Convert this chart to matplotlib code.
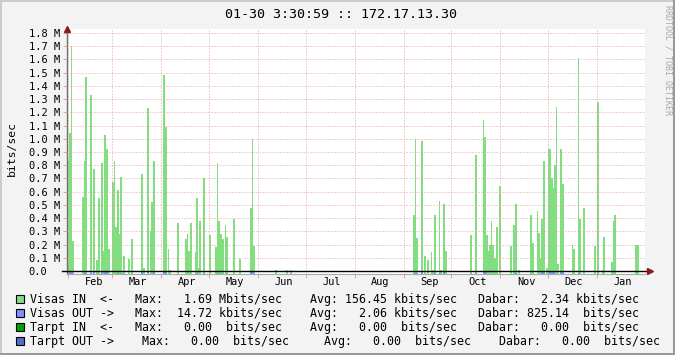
import matplotlib.pyplot as plt
import matplotlib.transforms as mtransforms
from matplotlib.patches import Rectangle
from matplotlib.lines import Line2D

plt.rcParams['font.family'] = ['DejaVu Sans Mono', 'DejaVu Sans']

# --- data (x = day of the one-year window, Feb 1 = 1) ---
title = "01-30 3:30:59 :: 172.17.13.30"
months = ["Feb", "Mar", "Apr", "May", "Jun", "Jul", "Aug", "Sep", "Oct", "Nov", "Dec", "Jan"]
month_start = [1, 29, 60, 90, 121, 151, 182, 213, 243, 274, 304, 335]

# Visas IN (Mbit/s)
in_days = [1.0, 1.8, 2.7, 3.7, 9.6, 10.9, 11.7, 14.7, 16.6, 18.5, 19.7,
           21.6, 22.9, 23.7, 25.0, 26.0, 28.6, 29.8, 30.5, 31.7, 33.0, 33.8,
           35.5, 38.7, 40.6, 47.3, 48.5, 50.7, 52.6, 53.6, 54.5,
           60.8, 62.0, 64.1, 64.8, 69.8, 74.9, 76.1, 76.8, 78.0,
           81.2, 81.8, 83.1, 83.7, 86.2, 90.0, 93.8, 95.1, 95.7, 97.0, 98.2,
           100.1, 100.7, 105.2, 108.9, 115.9, 117.2, 117.8, 131.7, 138.6, 141.2,
           218.8, 220.1, 220.7, 223.9, 225.7, 227.6,
           230.2, 230.8, 232.1, 235.2, 235.8, 237.7, 239.0,
           254.8, 257.9, 263.0, 263.6, 264.9, 266.2, 266.8, 268.0, 268.7, 269.9,
           271.2, 273.1, 280.0, 281.9, 283.2, 285.1,
           292.7, 293.9, 297.1, 297.7, 299.0, 299.6,
           300.9, 302.8, 304.0, 304.7, 305.9, 307.2, 307.8, 309.1, 309.7,
           311.6, 312.9, 319.2, 319.8, 323.0, 323.6, 326.1,
           333.1, 335.0, 338.1, 338.8, 343.8, 345.1, 345.7, 359.0, 360.3]
in_vals = [0.83, 1.04, 1.70, 0.23, 0.56, 0.83, 1.47, 1.33, 0.77, 0.08, 0.55,
           0.82, 0.15, 1.03, 0.92, 0.17, 0.67, 0.83, 0.33, 0.61, 0.28, 0.71,
           0.11, 0.09, 0.24, 0.73, 0.02, 1.23, 0.30, 0.52, 0.83,
           1.48, 1.09, 0.17, 0.01, 0.36, 0.24, 0.28, 0.15, 0.36,
           0.14, 0.55, 0.02, 0.38, 0.70, 0.27, 0.18, 0.82, 0.38, 0.28, 0.24,
           0.35, 0.26, 0.39, 0.09, 0.48, 1.00, 0.19, 0.01, 0.01, 0.01,
           0.42, 1.00, 0.25, 0.98, 0.11, 0.08,
           0.14, 0.01, 0.42, 0.53, 0.01, 0.51, 0.15,
           0.27, 0.88, 1.14, 1.01, 0.27, 0.15, 0.20, 0.38, 0.20, 0.10,
           0.33, 0.64, 0.19, 0.35, 0.51, 0.01,
           0.42, 0.21, 0.45, 0.29, 0.10, 0.39,
           0.83, 0.02, 0.92, 0.92, 0.70, 0.63, 0.80, 1.24, 0.05,
           0.92, 0.66, 0.20, 0.17, 1.61, 0.39, 0.48,
           0.19, 1.28, 0.01, 0.26, 0.07, 0.38, 0.42, 0.20, 0.20]

# Visas OUT (Mbit/s) - tiny, only visible at the baseline
out_days = [1.0, 2.0, 3.0, 11.1, 12.0, 14.9, 16.6, 21.6, 23.7, 25.0, 31.7, 34.3,
            47.3, 50.7, 54.5, 60.8, 62.0, 81.8, 86.2, 95.1, 115.9, 117.2,
            220.1, 223.9, 232.1, 235.2, 237.7, 257.9, 263.0, 264.2, 283.2,
            299.6, 300.9, 304.7, 305.9, 307.2, 311.6, 312.9, 323.0, 335.0]
out_vals = [0.012, 0.014, 0.012, 0.013, 0.011, 0.010, 0.012, 0.013, 0.012, 0.014, 0.011, 0.010,
            0.012, 0.013, 0.012, 0.014, 0.012, 0.011, 0.010, 0.010, 0.013, 0.012,
            0.010, 0.012, 0.010, 0.010, 0.012, 0.011, 0.013, 0.012, 0.010,
            0.012, 0.013, 0.012, 0.013, 0.012, 0.013, 0.012, 0.010, 0.010]

legend_lines = [
    "Visas IN  <-   Max:   1.69 Mbits/sec    Avg: 156.45 kbits/sec   Dabar:   2.34 kbits/sec",
    "Visas OUT ->   Max:  14.72 kbits/sec    Avg:   2.06 kbits/sec   Dabar: 825.14  bits/sec",
    "Tarpt IN  <-   Max:   0.00  bits/sec    Avg:   0.00  bits/sec   Dabar:   0.00  bits/sec",
    "Tarpt OUT ->    Max:   0.00  bits/sec     Avg:   0.00  bits/sec    Dabar:   0.00  bits/sec",
]
legend_colors = ["#80e080", "#8090ff", "#00a000", "#5070c8"]

W, H = 675, 355
grid_col = "#e8a0a0"
ybot = -0.0227


def widths(days, maxw=1.27):
    out = []
    for i, d in enumerate(days):
        nxt = days[i + 1] if i + 1 < len(days) else d + maxw
        out.append(min(nxt - d, maxw))
    return out


fig = plt.figure(figsize=(W / 100, H / 100), dpi=100, facecolor="#f3f3f3")
ax = fig.add_axes([67 / W, 81 / H, 578 / W, 245 / H])
ax.set_facecolor("white")

ax.bar(in_days, [v - ybot for v in in_vals], width=widths(in_days), bottom=ybot,
       align="edge", color=legend_colors[0], linewidth=0, zorder=2)
ax.bar(out_days, out_vals, width=widths(out_days), bottom=ybot,
       align="edge", color=legend_colors[1], linewidth=0, zorder=2.5)

ax.set_xlim(0.37, 365.3)
ax.set_ylim(ybot, 1.83)

# grid drawn on top of the data, like rrdtool
yt = [i / 10 for i in range(19)]
for v in yt[1:]:
    ax.axhline(v, color=grid_col, lw=0.72, ls=(0, (1, 2)), zorder=3)
for d in month_start:
    ax.axvline(d, color=grid_col, lw=0.72, ls=(0, (1, 2)), zorder=3)

ax.set_yticks(yt)
ax.set_yticklabels(["0.0"] + [f"{v:.1f} M" for v in yt[1:]])
for lbl in ax.get_yticklabels():
    lbl.set_ha("left")
ax.tick_params(axis="y", length=3, width=0.7, color=grid_col, pad=24.5, labelsize=7.5)

ax.set_xticks([d + 16.3 for d in month_start])
ax.set_xticklabels(months)
ax.set_xticks(month_start, minor=True)
ax.tick_params(axis="x", which="major", length=0, pad=2.5, labelsize=7.4)
ax.tick_params(axis="x", which="minor", length=3, width=0.7, color=grid_col)

for s in ["top", "right"]:
    ax.spines[s].set_visible(False)
ax.spines["left"].set_color("#707070")
ax.spines["left"].set_linewidth(1)
ax.spines["bottom"].set_color("#aaaaaa")
ax.spines["bottom"].set_linewidth(0.8)

# zero axis with arrows
tr = mtransforms.blended_transform_factory(ax.transAxes, ax.transData)
ax.plot([-5 / 578, 581 / 578], [0, 0], transform=tr, color="black", lw=1,
        clip_on=False, zorder=5)
ax.plot([583 / 578], [0], transform=tr, marker=">", ms=5, color="#8b1a1a",
        clip_on=False, zorder=6)
ax.plot([0], [1.0], transform=ax.transAxes, marker="^", ms=5, color="#8b1a1a",
        clip_on=False, zorder=6)

# texts
fig.text(341 / W, 1 - 14 / H, title, ha="center", va="center", fontsize=9.6)
fig.text(12 / W, 1 - 149 / H, "bits/sec", rotation=90, ha="center", va="center", fontsize=8.2)
fig.text(668 / W, 1 - 60 / H, "RRDTOOL / TOBI OETIKER", rotation=270, ha="center",
         va="center", fontsize=6, color="#a8a8a8")

for i, (txt, col) in enumerate(zip(legend_lines, legend_colors)):
    y = 299 + 14 * i
    fig.add_artist(Rectangle((15.5 / W, 1 - (y + 4) / H), 8 / W, 8 / H, facecolor=col,
                             edgecolor="black", lw=0.8, transform=fig.transFigure))
    fig.text(30 / W, 1 - y / H, txt, ha="left", va="center", fontsize=8.37)

# 3D-ish frame
fig.add_artist(Line2D([0, 1], [1 - 1 / H, 1 - 1 / H], color="#cccccc", lw=1.44, transform=fig.transFigure))
fig.add_artist(Line2D([1 / W, 1 / W], [0, 1], color="#cccccc", lw=1.44, transform=fig.transFigure))
fig.add_artist(Line2D([0, 1], [1 / H, 1 / H], color="#999999", lw=1.44, transform=fig.transFigure))
fig.add_artist(Line2D([1 - 1 / W, 1 - 1 / W], [0, 1], color="#999999", lw=1.44, transform=fig.transFigure))

fig.savefig("out.png", dpi=100, facecolor=fig.get_facecolor())
plt.close(fig)
